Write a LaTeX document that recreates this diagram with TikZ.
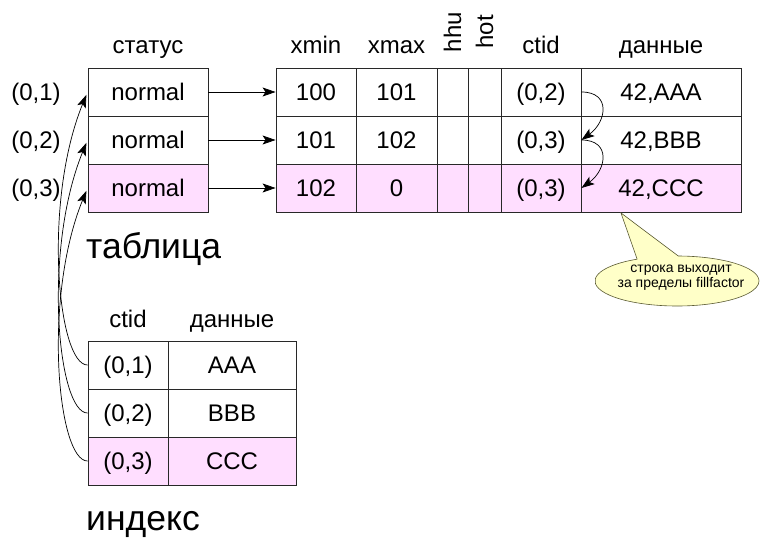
\documentclass[tikz,border=0pt]{standalone}
\usepackage{fontspec}
\setmainfont{Liberation Sans}
\usetikzlibrary{arrows.meta,shapes.callouts,shapes.geometric}
\definecolor{rowpink}{RGB}{255,222,255}
\definecolor{notefill}{RGB}{255,255,200}
\definecolor{notedraw}{RGB}{90,90,50}
\definecolor{gridline}{RGB}{40,40,40}
\begin{document}
\begin{tikzpicture}[x=1pt,y=-1pt,
  font=\fontsize{24}{28}\selectfont,
  cell/.style={draw=gridline, line width=0.9pt, inner sep=0pt, minimum height=48pt,
               text height=17.2pt, text depth=0pt},
  pcell/.style={cell, fill=rowpink},
  plain/.style={inner sep=0pt, text height=17.2pt, text depth=0pt},
  hdr/.style={inner sep=0pt, anchor=base},
  big/.style={inner sep=0pt, anchor=base west, font=\fontsize{35.5}{40}\selectfont},
  arr/.style={-{Stealth[length=13pt,width=9pt,inset=3pt]}, line width=0.7pt},
]
\useasboundingbox (0,0) rectangle (760,540);

% headers of the table
\node[hdr] (hst) at (148,53.5) {статус};
\node[hdr] (hxmin) at (316,53.5) {xmin};
\node[hdr] (hxmax) at (396.5,53.5) {xmax};
\node[plain, rotate=90] (hhhu) at (452.5,32) {hhu};
\node[plain, rotate=90] (hhot) at (484.5,32) {hot};
\node[hdr] (hct) at (541,53.5) {ctid};
\node[hdr] (hdat) at (661,53.5) {данные};

% row labels
\node[plain] (l1) at (36,92) {(0,1)};
\node[plain] (l2) at (36,140) {(0,2)};
\node[plain] (l3) at (36,188) {(0,3)};

% status column
\node[cell, minimum width=120pt] (s1) at (148,92) {normal};
\node[cell, minimum width=120pt] (s2) at (148,140) {normal};
\node[pcell, minimum width=120pt] (s3) at (148,188) {normal};

% table rows
\node[cell, minimum width=80pt] (a1) at (316,92) {100};
\node[cell, minimum width=81pt] (b1) at (396.5,92) {101};
\node[cell, minimum width=31pt] (h1) at (452.5,92) {};
\node[cell, minimum width=33pt] (o1) at (484.5,92) {};
\node[cell, minimum width=80pt] (c1) at (541,92) {(0,2)};
\node[cell, minimum width=160pt] (d1) at (661,92) {42,AAA};

\node[cell, minimum width=80pt] (a2) at (316,140) {101};
\node[cell, minimum width=81pt] (b2) at (396.5,140) {102};
\node[cell, minimum width=31pt] (h2) at (452.5,140) {};
\node[cell, minimum width=33pt] (o2) at (484.5,140) {};
\node[cell, minimum width=80pt] (c2) at (541,140) {(0,3)};
\node[cell, minimum width=160pt] (d2) at (661,140) {42,BBB};

\node[pcell, minimum width=80pt] (a3) at (316,188) {102};
\node[pcell, minimum width=81pt] (b3) at (396.5,188) {0};
\node[pcell, minimum width=31pt] (h3) at (452.5,188) {};
\node[pcell, minimum width=33pt] (o3) at (484.5,188) {};
\node[pcell, minimum width=80pt] (c3) at (541,188) {(0,3)};
\node[pcell, minimum width=160pt] (d3) at (661,188) {42,CCC};

\node[big] (ttab) at (86,258) {таблица};

% index
\node[hdr] (ihct) at (128,327) {ctid};
\node[hdr] (ihdat) at (232,327) {данные};
\node[cell, minimum width=80pt] (i1) at (128,365) {(0,1)};
\node[cell, minimum width=128pt] (j1) at (232,365) {AAA};
\node[cell, minimum width=80pt] (i2) at (128,413) {(0,2)};
\node[cell, minimum width=128pt] (j2) at (232,413) {BBB};
\node[pcell, minimum width=80pt] (i3) at (128,461) {(0,3)};
\node[pcell, minimum width=128pt] (j3) at (232,461) {CCC};

\node[big] (tidx) at (86,530) {индекс};

% arrows status -> tuples
\draw[arr] (s1) -- (a1);
\draw[arr] (s2) -- (a2);
\draw[arr] (s3) -- (a3);

% ctid chain
\draw[arr] (c1.east) .. controls +(30,0) and +(25,-18) .. (c2.east);
\draw[arr] (c2.east) .. controls +(30,0) and +(25,-18) .. (c3.east);

% index -> item pointers
\draw[arr, shorten >=3pt] (i1.west) .. controls +(-30,0) and +(-45,110) .. (s1.west);
\draw[arr, shorten >=3pt] (i2.west) .. controls +(-30,0) and +(-45,110) .. (s2.west);
\draw[arr, shorten >=3pt] (i3.west) .. controls +(-30,0) and +(-45,110) .. (s3.west);

% callout
\coordinate (tip) at (621,213);
\node[ellipse callout, draw=notedraw, fill=notefill, line width=0.6pt,
      minimum width=164pt, minimum height=50pt, inner sep=0pt,
      callout absolute pointer={(tip)}, callout pointer arc=30] (note) at (677,281) {};
\node[align=center, inner sep=0pt, font=\fontsize{14}{15}\selectfont] (notetext) at (681,278)
  {строка выходит\\за пределы fillfactor};
\end{tikzpicture}
\end{document}
